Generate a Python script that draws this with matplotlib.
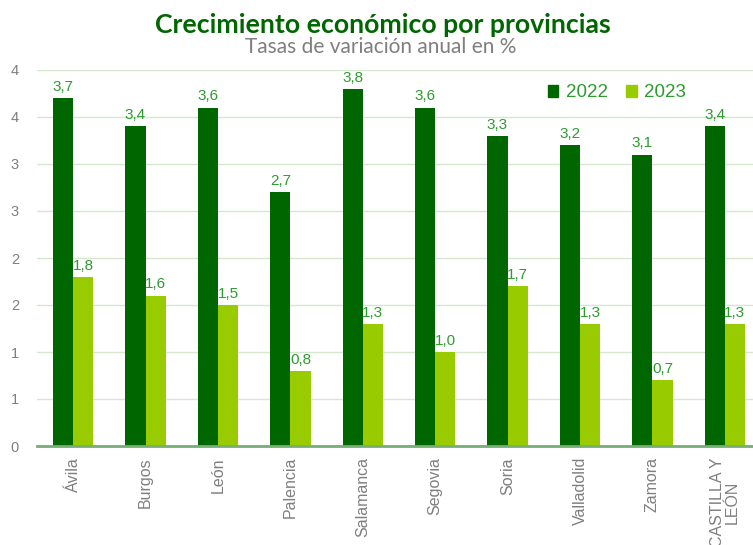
import numpy as np
import matplotlib
matplotlib.use("Agg")
import matplotlib.pyplot as plt
from matplotlib.ticker import FixedLocator, FuncFormatter
from matplotlib.patches import Patch

# growth rates by province, percent
provincias = ["Ávila", "Burgos", "León", "Palencia", "Salamanca",
              "Segovia", "Soria", "Valladolid", "Zamora", "CASTILLA Y\nLEÓN"]
v2022 = [3.7, 3.4, 3.6, 2.7, 3.8, 3.6, 3.3, 3.2, 3.1, 3.4]
v2023 = [1.8, 1.6, 1.5, 0.8, 1.3, 1.0, 1.7, 1.3, 0.7, 1.3]
yticks = [0, 0.5, 1, 1.5, 2, 2.5, 3, 3.5, 4]

dark = "#006600"
light = "#99CC00"
lblgreen = "#2E9B2E"
gray = "#7F7F7F"

plt.rcParams["font.family"] = ["Liberation Sans", "DejaVu Sans"]

fig = plt.figure(figsize=(7.53, 5.45), dpi=100)
# plot area runs slightly past the right edge of the figure
ax = fig.add_axes([37 / 753, 99 / 545, 724 / 753, 376 / 545])

x = np.arange(len(provincias))
w = 0.28
b1 = ax.bar(x - w / 2, v2022, w, color=dark, zorder=3, label="2022")
b2 = ax.bar(x + w / 2, v2023, w, color=light, zorder=3, label="2023")

fmt = lambda v: ("%.1f" % v).replace(".", ",")
for bars, vals in ((b1, v2022), (b2, v2023)):
    for r, v in zip(bars, vals):
        ax.annotate(fmt(v), (r.get_x() + r.get_width() / 2, v),
                    xytext=(0, 3), textcoords="offset points",
                    ha="center", va="bottom", fontsize=11, color=lblgreen)

ax.set_xlim(-0.5, len(provincias) - 0.5)
ax.set_ylim(0, 4)
ax.yaxis.set_major_locator(FixedLocator(yticks))
# whole-number labels rounded half up, as the source sheet shows them
ax.yaxis.set_major_formatter(FuncFormatter(lambda v, p: "%d" % int(np.floor(v + 0.5))))
ax.tick_params(axis="y", length=0, pad=13, labelsize=10.5, labelcolor=gray)
ax.set_xticks(x)
ax.set_xticklabels(provincias, rotation=90, va="top", ha="center",
                   multialignment="center", linespacing=0.95)
ax.tick_params(axis="x", length=0, pad=8, labelsize=11.5, labelcolor=gray)

ax.grid(axis="y", color="#D6E7D0", linewidth=1, zorder=0)
for s in ("top", "right", "left"):
    ax.spines[s].set_visible(False)
ax.spines["bottom"].set_color("#76AE76")
ax.spines["bottom"].set_linewidth(2)
ax.spines["bottom"].set_zorder(4)

handles = [Patch(color=dark, label="2022"), Patch(color=light, label="2023")]
leg = ax.legend(handles=handles, ncol=2, frameon=False, fontsize=13.5,
                loc="center", bbox_to_anchor=((617 - 37) / 724, (446 - 93) / 376),
                handlelength=0.55, handleheight=0.55, handletextpad=0.4,
                columnspacing=1.0, borderpad=0)
for t in leg.get_texts():
    t.set_color(lblgreen)

fig.text(383 / 753, 1 - 25 / 545, "Crecimiento económico por provincias",
         ha="center", va="center", fontsize=19.2, fontweight="bold",
         color=dark, family=["Lato", "DejaVu Sans"])
fig.text(381 / 753, 1 - 47 / 545, "Tasas de variación anual en %",
         ha="center", va="center", fontsize=15, color=gray,
         family=["Lato", "DejaVu Sans"])

fig.savefig("out.png", dpi=100)
